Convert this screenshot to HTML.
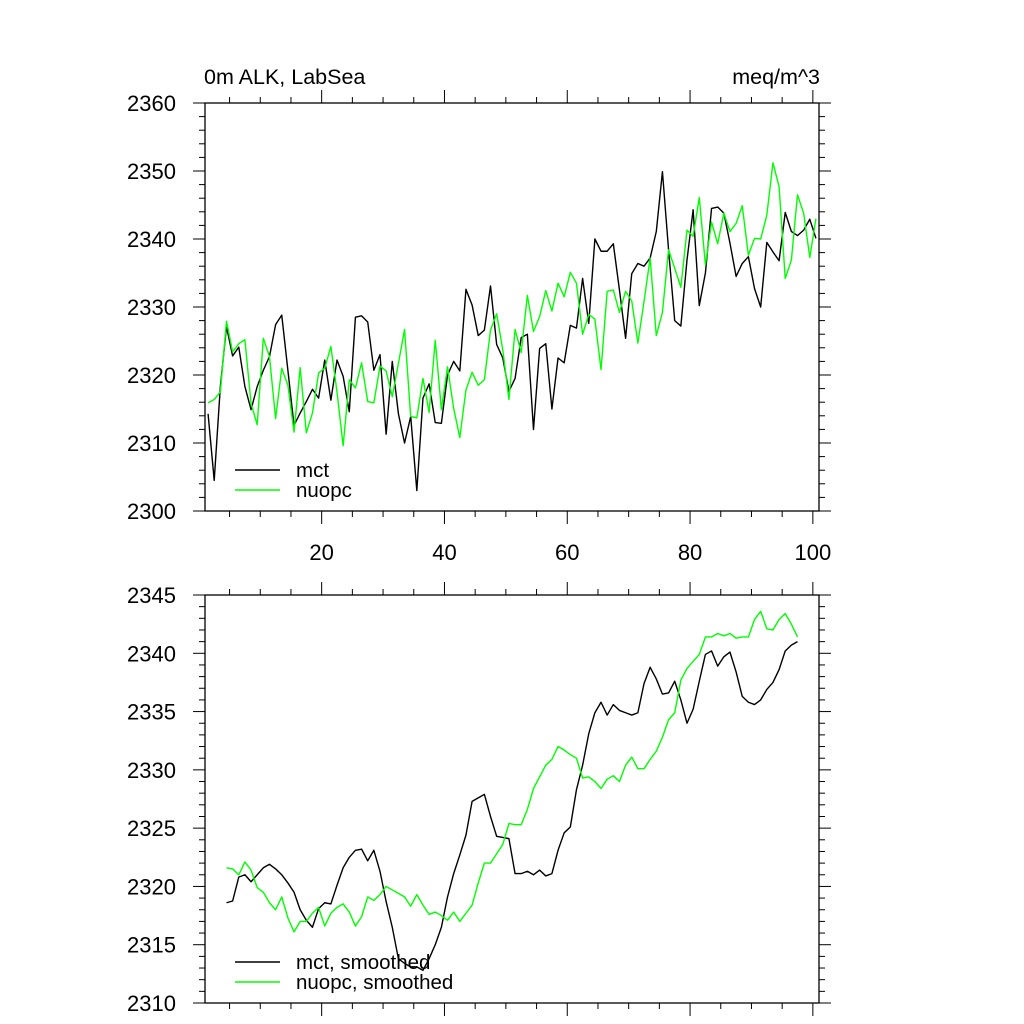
<!DOCTYPE html>
<html><head><meta charset="utf-8"><style>
body{margin:0;background:#fff;}
svg{display:block;font-family:"Liberation Sans",sans-serif;}
</style></head><body>
<svg id="chart" width="1024" height="1024" viewBox="0 0 1024 1024">
<text x="204" y="84" font-size="21.5">0m ALK, LabSea</text>
<text x="820" y="84" font-size="21.5" text-anchor="end">meq/m^3</text>
<g id="top"></g>
<g id="bot"></g>
</svg>
<script>
const mctRaw=[2314.3,2304.5,2318.3,2327.1,2322.8,2324.1,2318.3,2314.9,2318.3,2320.7,2322.7,2327.4,2328.8,2320.7,2312.6,2314.4,2316.1,2317.9,2316.6,2322.2,2316.3,2322.2,2319.8,2314.6,2328.5,2328.7,2327.8,2320.7,2323,2311.3,2322,2314.3,2310,2313.9,2303,
2316.6,2318.7,2313,2312.9,2320,2322,2320.6,2332.6,2330.3,2325.8,2326.6,2333.1,2324.5,2322.5,2317.6,2319.5,2325.5,2326,2312,2323.9,2324.6,2315,2322.5,2321.8,2327.3,2326.9,2334.2,2327.6,2340,2338.2,2338.2,2339.3,2332.5,
2325.4,2334.9,2336.4,2336,2337.2,2341.1,2349.9,2338.4,2328,2327.2,2336.9,2344.3,2330.2,2335,2344.5,2344.7,2343.8,2339.4,2334.5,2336.4,2337.4,2332.7,2330,2339.5,2338.1,2336.8,2343.9,2341.1,2340.5,2341.3,2342.9,2340.1];
const nuopcRaw=[2315.9,2316.4,2317.5,2327.9,2323.4,2324.6,2325.2,2315.8,2312.7,2325.4,2322.7,2313.6,2321,2318.5,2311.6,2321.1,2311.5,2314.4,2320.3,2321,2324.2,2317.5,2309.6,2319.3,2318.1,2321.8,2316.1,2315.9,2321.3,2320.6,2316.8,2321.7,2326.7,2313.9,2313.7,
2319.5,2314.5,2325.1,2314.9,2321.2,2315.1,2310.8,2317.8,2320.4,2318.5,2319.3,2326.6,2329,2323.7,2316.4,2326.7,2323.3,2331.7,2326.4,2328.6,2332.4,2329.4,2333.5,2331.5,2335.1,2333.5,2326,2328.9,2328.2,2320.8,2332.3,2332.5,2329.2,
2332.3,2330.9,2324.7,2330.8,2337.2,2325.8,2329.2,2338.4,2335.7,2332.9,2341.3,2340.4,2346.1,2336.2,2342.5,2339.3,2343.8,2341.1,2342.3,2344.9,2337.6,2340.1,2340,2343.5,2351.2,2347.7,2334.2,2336.9,2346.5,2343.8,2337.3,2343];
const mctSmooth=[2318.6,2318.75,2320.8,2321,2320.4,2321,2321.6,2321.9,2321.5,2321,2320.3,2319.5,2318,2317.1,2316.5,2318.1,2318.6,2318.5,2320.1,2321.6,2322.5,2323.1,2323.2,2322.2,2323.1,2321.3,2318.7,2316.5,
2313.8,2313.4,2313.1,2313.1,2312.8,2313.8,2315,2316.5,2319.1,2321.1,
2322.7,2324.4,2327.3,2327.6,2327.9,2326,2324.3,2324.2,2324.1,2321.1,2321.1,2321.3,2321,2321.4,2320.9,2321.1,2323.1,2324.6,2325.1,2328.3,2330.4,2333.1,2334.9,2335.8,2334.7,2335.6,2335.1,2334.9,2334.7,2334.9,
2337.4,2338.8,2337.8,2336.5,2336.6,2337.6,2336,2334,2335.2,2337.6,2339.9,2340.2,2338.9,2339.7,2340.1,2338.4,2336.3,2335.8,2335.6,2336,2336.9,2337.5,2338.6,2340.2,2340.7,2341];
const nuopcSmooth=[2321.6,2321.5,2321,2322.1,2321.4,2319.9,2319.5,2318.6,2318,2319.1,2317.3,2316.1,2317,2317,2317.7,2318.2,2316.6,2317.7,2318.2,2318.5,2317.8,2316.6,2317.4,2319.1,2318.8,2319.3,2320,2319.7,2319.4,2319.1,2318.3,2319.3,2318.4,2317.6,2317.8,2317.5,
2317.1,2317.8,2317,2317.7,2318.4,2320.3,2322,
2322,2322.8,2323.6,2325.4,2325.3,2325.3,2326.6,2328.4,2329.4,2330.4,2330.9,2332,2331.7,2331.3,2331,2329.3,2329.4,2329,2328.4,2329.2,2329.5,2329,2330.4,2331.1,2330.1,
2330.1,2330.9,2331.6,2332.8,2334.3,2334.9,2337.7,2338.7,2339.3,2339.9,2341.4,2341.4,2341.7,2341.5,2341.7,2341.3,2341.4,2341.4,2342.9,2343.6,2342.1,2342,2342.9,2343.4,2342.5,2341.4];
const xTickLabels=[20,40,60,80,100];
const topYTicks=[2300,2310,2320,2330,2340,2350,2360];
const botYTicks=[2310,2315,2320,2325,2330,2335,2340,2345];
const rawStart=1.5, smoothStart=4.5;

const NS='http://www.w3.org/2000/svg';
const L=205,R=819;
const X=v=>L+(v-1)*(R-L)/100;
function mk(p,tag,attrs){const e=document.createElementNS(NS,tag);for(const k in attrs)e.setAttribute(k,attrs[k]);p.appendChild(e);return e;}
function panel(g,top,bot,ymin,ymax,major,minor,yTicks,showX,series,legend,legY){
  const Y=v=>bot-(v-ymin)*(bot-top)/(ymax-ymin);
  const frame=mk(g,'rect',{x:L,y:top,width:R-L,height:bot-top,fill:'none',stroke:'#000','stroke-width':1.3});
  
  
  for(let v=ymin;v<=ymax+1e-6;v+=minor){
    const isMaj=Math.abs((v-ymin)/major-Math.round((v-ymin)/major))<1e-6;
    const len=isMaj?12:6;
    const t1=mk(g,'line',{x1:L-len,x2:L,y1:Y(v),y2:Y(v),stroke:'#000','stroke-width':1});
    
    
    const t2=mk(g,'line',{x1:R,x2:R+len,y1:Y(v),y2:Y(v),stroke:'#000','stroke-width':1});
    
    
  }
  yTicks.forEach(v=>{
    const t=mk(g,'text',{x:176,y:Y(v)+8,'font-size':22,'text-anchor':'end'});t.textContent=v;
    
    
  });
  for(let v=5;v<=100;v+=5){
    const isMaj=v%20===0;const len=isMaj?13:6;
    const a=mk(g,'line',{x1:X(v),x2:X(v),y1:bot,y2:bot+len,stroke:'#000','stroke-width':1});
    
    
    const b=mk(g,'line',{x1:X(v),x2:X(v),y1:top-len,y2:top,stroke:'#000','stroke-width':1});
    
    
  }
  if(showX) xTickLabels.forEach(v=>{
    const t=mk(g,'text',{x:X(v),y:bot+49,'font-size':22,'text-anchor':'middle'});t.textContent=v;
    
    
  });
  series.forEach(s=>{
    const d=s.data.map((v,i)=>(i?'L':'M')+X(s.start+i).toFixed(2)+','+Y(v).toFixed(2)).join('');
    const p=mk(g,'path',{d:d,fill:'none',stroke:s.color,'stroke-width':1.4,'stroke-linejoin':'round'});
    
    
  });
  legend.forEach((lab,i)=>{
    const y=legY+i*20;
    const ln=mk(g,'line',{x1:235,x2:280,y1:y,y2:y,stroke:series[i].color,'stroke-width':1.4});
    
    
    const t=mk(g,'text',{x:296,y:y+7,'font-size':20.5});t.textContent=lab;
    
    
  });
}
panel(document.getElementById('top'),103,511,2300,2360,10,2,topYTicks,true,
 [{data:mctRaw,start:rawStart,color:'#000',name:'mct-line'},{data:nuopcRaw,start:rawStart,color:'#00ff00',name:'nuopc-line'}],
 ['mct','nuopc'],470);
panel(document.getElementById('bot'),595,1003,2310,2345,5,1,botYTicks,false,
 [{data:mctSmooth,start:smoothStart,color:'#000',name:'mct-smoothed-line'},{data:nuopcSmooth,start:smoothStart,color:'#00ff00',name:'nuopc-smoothed-line'}],
 ['mct, smoothed','nuopc, smoothed'],962);
</script>
</body></html>
